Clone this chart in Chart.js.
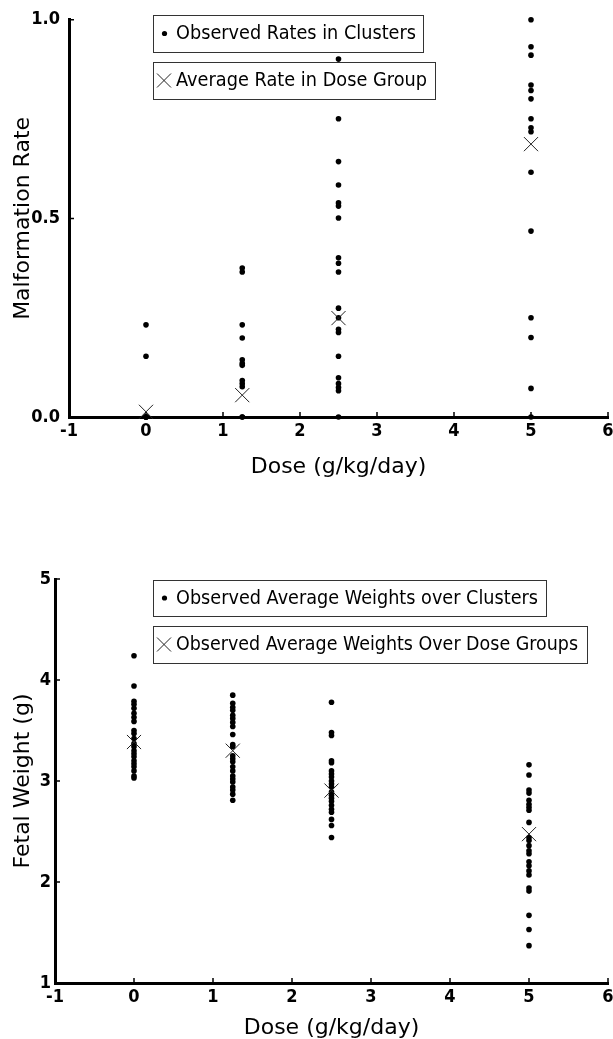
<!DOCTYPE html>
<html>
<head>
<meta charset="utf-8">
<script src="https://cdn.jsdelivr.net/npm/chart.js@4/dist/chart.umd.min.js"></script>
<style>
    html, body { margin: 0; padding: 0; background: #fff; }
    body { width: 613px; height: 1039px; position: relative; overflow: hidden; }
    .plot { position: absolute; left: 0; width: 613px; overflow: hidden; }
    #rateBox { top: 0; height: 500px; }
    #weightBox { top: 520px; height: 519px; }
</style>
</head>
<body>
<div class="plot" id="rateBox"><canvas id="rateChart" width="619" height="500"></canvas></div>
<div class="plot" id="weightBox"><canvas id="weightChart" width="619" height="519"></canvas></div>
<script>
// Dose groups and axis ticks
const doses = [0, 1.25, 2.5, 5];
const xTicks = [-1, 0, 1, 2, 3, 4, 5, 6];
const rateTicks = [0, 0.5, 1.0];
const weightTicks = [1, 2, 3, 4, 5];

// Malformation rate per cluster, one array per dose group
const ratesDose0 = [0.232, 0.153, 0, 0, 0, 0, 0];
const ratesDose125 = [0.375, 0.365, 0.232, 0.199, 0.144, 0.135, 0.130, 0.092, 0.084, 0.076, 0, 0];
const ratesDose25 = [0.901, 0.751, 0.643, 0.584, 0.539, 0.531, 0.501, 0.401, 0.387, 0.365, 0.274, 0.250,
    0.221, 0.213, 0.153, 0.099, 0.084, 0.074, 0.066, 0];
const ratesDose5 = [1.0, 0.932, 0.911, 0.836, 0.822, 0.801, 0.751, 0.728, 0.718, 0.616, 0.468, 0.250,
    0.200, 0.072, 0];
const avgRates = [0.013, 0.055, 0.249, 0.687];

// Average fetal weight per cluster (g)
const weightsDose0 = [4.24, 3.94, 3.79, 3.76, 3.72, 3.67, 3.63, 3.59, 3.50, 3.47, 3.42, 3.37, 3.34, 3.30,
    3.27, 3.24, 3.20, 3.17, 3.14, 3.10, 3.05, 3.03];
const weightsDose125 = [3.85, 3.77, 3.73, 3.70, 3.65, 3.62, 3.58, 3.54, 3.46, 3.36, 3.34, 3.25, 3.22, 3.19,
    3.14, 3.10, 3.05, 3.02, 2.99, 2.94, 2.91, 2.87, 2.81];
const weightsDose25 = [3.78, 3.48, 3.45, 3.20, 3.18, 3.10, 3.07, 3.04, 3.00, 2.97, 2.94, 2.89, 2.86, 2.83,
    2.80, 2.76, 2.72, 2.69, 2.62, 2.56, 2.44];
const weightsDose5 = [3.16, 3.06, 2.91, 2.88, 2.81, 2.77, 2.74, 2.71, 2.59, 2.44, 2.41, 2.36, 2.31, 2.28,
    2.20, 2.16, 2.11, 2.07, 1.94, 1.91, 1.67, 1.53, 1.37];
const avgWeights = [3.386, 3.30, 2.905, 2.474];

const clusterPoints = groups => groups.flatMap((vals, i) => vals.map(v => ({ x: doses[i], y: v })));
const avgPoints = avgs => avgs.map((v, i) => ({ x: doses[i], y: v }));

const tickFont = { family: "'DejaVu Sans Condensed', 'Liberation Sans Narrow', 'Liberation Sans', sans-serif", size: 18, weight: 'bold' };
const titleFont = { family: "'DejaVu Sans', sans-serif", size: 22, lineHeight: 1 };

// Small ticks pointing into the plot area
const innerTicks = {
    id: 'innerTicks',
    afterDraw(chart) {
        const { ctx, chartArea, scales: { x, y } } = chart;
        ctx.save();
        ctx.strokeStyle = '#000';
        ctx.lineWidth = 1.5;
        ctx.beginPath();
        x.ticks.forEach(t => {
            const px = x.getPixelForValue(t.value);
            ctx.moveTo(px, chartArea.bottom);
            ctx.lineTo(px, chartArea.bottom - 5);
        });
        y.ticks.forEach(t => {
            if (t.value === y.min) return;
            const py = y.getPixelForValue(t.value);
            ctx.moveTo(chartArea.left, py);
            ctx.lineTo(chartArea.left + 5, py);
        });
        ctx.stroke();
        ctx.restore();
    }
};

// Boxed legend entries like the original figure
const boxLegend = {
    id: 'boxLegend',
    afterDraw(chart, args, opts) {
        const ctx = chart.ctx;
        (opts.items || []).forEach(item => {
            const [bx, by, bw, bh] = item.box;
            const cy = by + bh / 2;
            ctx.save();
            ctx.strokeStyle = '#333';
            ctx.lineWidth = 1;
            ctx.strokeRect(bx + 0.5, by + 0.5, bw, bh);
            if (item.marker === 'dot') {
                ctx.fillStyle = '#000';
                ctx.beginPath();
                ctx.arc(bx + 11.5, cy, 2.6, 0, Math.PI * 2);
                ctx.fill();
            } else {
                ctx.strokeStyle = '#222';
                ctx.beginPath();
                ctx.moveTo(bx + 4, cy - 7);
                ctx.lineTo(bx + 18, cy + 7);
                ctx.moveTo(bx + 18, cy - 7);
                ctx.lineTo(bx + 4, cy + 7);
                ctx.stroke();
            }
            ctx.font = "19px 'DejaVu Sans', sans-serif";
            ctx.fillStyle = '#000';
            ctx.textBaseline = 'middle';
            const w = ctx.measureText(item.text).width;
            ctx.translate(bx + 23, cy + 1);
            ctx.scale(item.textWidth / w, 1);
            ctx.fillText(item.text, 0, 0);
            ctx.restore();
        });
    }
};

function makeChart(canvasId, cfg) {
    return new Chart(document.getElementById(canvasId), {
        type: 'scatter',
        data: {
            datasets: [{
                label: 'average',
                data: avgPoints(cfg.avgs),
                pointStyle: 'crossRot',
                pointRadius: 10,
                pointHoverRadius: 10,
                borderColor: '#222',
                borderWidth: 1,
                clip: false
            }, {
                label: 'clusters',
                data: clusterPoints(cfg.groups),
                pointStyle: 'circle',
                pointRadius: 2.8,
                pointHoverRadius: 2.8,
                backgroundColor: '#000',
                borderWidth: 0,
                clip: false
            }]
        },
        options: {
            responsive: false,
            animation: false,
            events: [],
            layout: { padding: cfg.padding },
            plugins: {
                legend: { display: false },
                tooltip: { enabled: false },
                boxLegend: { items: cfg.legend }
            },
            scales: {
                x: {
                    type: 'linear',
                    min: -1,
                    max: 6,
                    afterBuildTicks: s => { s.ticks = xTicks.map(v => ({ value: v })); },
                    afterFit: s => { s.height = cfg.xHeight; },
                    grid: { drawOnChartArea: false, drawTicks: false },
                    border: { width: 3, color: '#000' },
                    ticks: { color: '#000', font: tickFont, padding: 4, maxRotation: 0 },
                    title: {
                        display: true,
                        text: 'Dose (g/kg/day)',
                        color: '#000',
                        font: titleFont,
                        padding: { top: 0, bottom: cfg.xTitlePad }
                    }
                },
                y: {
                    type: 'linear',
                    min: cfg.yTicks[0],
                    max: cfg.yTicks[cfg.yTicks.length - 1],
                    afterBuildTicks: s => { s.ticks = cfg.yTicks.map(v => ({ value: v })); },
                    afterFit: s => { s.width = cfg.yWidth; },
                    grid: { drawOnChartArea: false, drawTicks: false },
                    border: { width: 3, color: '#000' },
                    ticks: { color: '#000', font: tickFont, padding: cfg.yTickPad, callback: cfg.yFormat },
                    title: {
                        display: true,
                        text: cfg.yTitle,
                        color: '#000',
                        font: titleFont,
                        padding: { top: 12, bottom: 0 }
                    }
                }
            }
        },
        plugins: [innerTicks, boxLegend]
    });
}

makeChart('rateChart', {
    groups: [ratesDose0, ratesDose125, ratesDose25, ratesDose5],
    avgs: avgRates,
    yTicks: rateTicks,
    yTitle: 'Malformation Rate',
    yFormat: v => v.toFixed(1),
    yWidth: 69,
    yTickPad: 9,
    xHeight: 83,
    xTitlePad: 22,
    padding: { top: 16, right: 0, bottom: 0, left: 0 },
    legend: [
        { marker: 'dot', text: 'Observed Rates in Clusters', box: [153, 15, 270, 37], textWidth: 240 },
        { marker: 'cross', text: 'Average Rate in Dose Group', box: [153, 62, 282, 37], textWidth: 251 }
    ]
});

makeChart('weightChart', {
    groups: [weightsDose0, weightsDose125, weightsDose25, weightsDose5],
    avgs: avgWeights,
    yTicks: weightTicks,
    yTitle: 'Fetal Weight (g)',
    yFormat: v => String(v),
    yWidth: 55,
    yTickPad: 4,
    xHeight: 56,
    xTitlePad: 0,
    padding: { top: 59, right: 0, bottom: 0, left: 0 },
    legend: [
        { marker: 'dot', text: 'Observed Average Weights over Clusters', box: [153, 60, 393, 36], textWidth: 362 },
        { marker: 'cross', text: 'Observed Average Weights Over Dose Groups', box: [153, 106, 434, 37], textWidth: 402 }
    ]
});
</script>
</body>
</html>
